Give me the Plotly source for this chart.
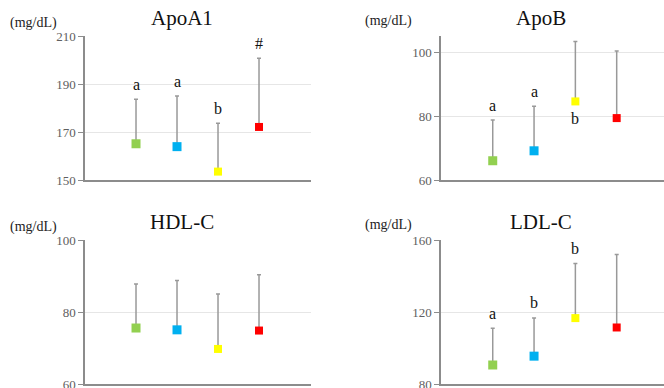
import plotly.graph_objects as go

groups = ["G1", "G2", "G3", "G4"]
colors = ["#92D050", "#00B0F0", "#FFFF00", "#FF0000"]
marker_sizes = [9, 9, 8, 8]

apoa1_mean = [165.1, 163.9, 153.5, 172.1]
apoa1_top = [183.6, 185.0, 173.6, 200.7]
apoa1_labels = ["a", "a", "b", "#"]

apob_mean = [66.1, 69.2, 84.6, 79.4]
apob_top = [78.8, 83.1, 103.3, 100.3]
apob_labels = ["a", "a", "b", ""]

hdl_mean = [75.6, 75.1, 69.8, 74.9]
hdl_top = [87.8, 88.8, 85.0, 90.4]
hdl_labels = ["", "", "", ""]

ldl_mean = [90.7, 95.6, 116.7, 111.5]
ldl_top = [111.1, 116.8, 147.0, 152.0]
ldl_labels = ["a", "b", "b", ""]

panels = [
    dict(title="ApoA1", mean=apoa1_mean, top=apoa1_top, labels=apoa1_labels,
         yrange=[150, 210], ticks=[150, 170, 190, 210]),
    dict(title="ApoB", mean=apob_mean, top=apob_top, labels=apob_labels,
         yrange=[60, 105], ticks=[60, 80, 100]),
    dict(title="HDL-C", mean=hdl_mean, top=hdl_top, labels=hdl_labels,
         yrange=[60, 100], ticks=[60, 80, 100]),
    dict(title="LDL-C", mean=ldl_mean, top=ldl_top, labels=ldl_labels,
         yrange=[80, 160], ticks=[80, 120, 160]),
]
# labels drawn below the marker instead of above the bar
below = {("ApoB", 2)}

W, H = 664, 388
# pixel geometry of each panel (left, right, top, bottom)
geom = [
    (85, 311, 36, 180),
    (441, 664, 36, 180.3),
    (85, 311, 240, 384.3),
    (441, 664, 240, 384.3),
]
xranges = [
    [-1.244, 4.268],
    [-1.252, 4.145],
    [-1.244, 4.268],
    [-1.252, 4.145],
]

SERIF = "Liberation Serif"
fig = go.Figure()
annotations = []
xs = list(range(len(groups)))

for i, p in enumerate(panels):
    n = "" if i == 0 else str(i + 1)
    xa, ya = "x" + n, "y" + n
    l, r, t, b = geom[i]
    err = [tp - m for tp, m in zip(p["top"], p["mean"])]
    # error bars (upper only)
    fig.add_trace(go.Scatter(
        x=xs, y=p["mean"], mode="markers", xaxis=xa, yaxis=ya,
        marker=dict(size=1, opacity=0),
        error_y=dict(type="data", symmetric=False, array=err,
                     arrayminus=[0] * len(err), color="#999999", thickness=1.5, width=2),
        showlegend=False, hoverinfo="skip", cliponaxis=False,
    ))
    # mean markers on top
    fig.add_trace(go.Scatter(
        x=xs, y=p["mean"], mode="markers", xaxis=xa, yaxis=ya,
        marker=dict(symbol="square", size=marker_sizes, color=colors, opacity=1,
                    line=dict(width=0)),
        showlegend=False, hoverinfo="skip", cliponaxis=False,
    ))
    fig.layout["xaxis" + n] = dict(
        domain=[l / W, min(r / W, 1)], range=xranges[i], anchor=ya, automargin=False,
        showticklabels=False, ticks="", showgrid=False, zeroline=False,
        showline=True, linecolor="#8c8c8c", linewidth=1.5, fixedrange=True,
    )
    fig.layout["yaxis" + n] = dict(
        domain=[1 - b / H, 1 - t / H], range=p["yrange"], anchor=xa, automargin=False,
        tickvals=p["ticks"], ticks="outside", ticklen=5, tickcolor="#8c8c8c",
        ticklabeloverflow="allow",
        showgrid=True, gridcolor="#e6e6e6", gridwidth=1, zeroline=False,
        showline=True, linecolor="#8c8c8c", linewidth=1.5,
        tickfont=dict(family=SERIF, size=13, color="#606060"), fixedrange=True,
    )
    cx = 182 / W if i in (0, 2) else 541 / W
    ty = 1 - (t - 18) / H
    annotations.append(dict(text=p["title"], x=cx, y=ty, xref="paper", yref="paper",
                            xanchor="center", yanchor="middle", showarrow=False,
                            font=dict(family=SERIF, size=21, color="#111111")))
    ux = 33 / W if i in (0, 2) else 388 / W
    uy = 1 - (t - 13) / H if i in (0, 2) else 1 - (t - 15) / H
    annotations.append(dict(text="(mg/dL)", x=ux, y=uy, xref="paper", yref="paper",
                            xanchor="center", yanchor="middle", showarrow=False,
                            font=dict(family=SERIF, size=14, color="#222222")))
    for j, lab in enumerate(p["labels"]):
        if not lab:
            continue
        if (p["title"], j) in below:
            annotations.append(dict(text=lab, x=j, y=p["mean"][j], xref=xa, yref=ya,
                                    yanchor="middle", yshift=-17, showarrow=False,
                                    font=dict(family=SERIF, size=16, color="#111111")))
        else:
            annotations.append(dict(text=lab, x=j, y=p["top"][j], xref=xa, yref=ya,
                                    yanchor="middle", yshift=15, showarrow=False,
                                    font=dict(family=SERIF, size=16, color="#111111")))

fig.update_layout(
    width=W, height=H, margin=dict(l=0, r=0, t=0, b=0, autoexpand=False),
    paper_bgcolor="white", plot_bgcolor="white",
    annotations=annotations,
)
fig.write_html("out.html", config={"displayModeBar": False},
               post_script="document.body.style.margin='0';document.body.style.overflow='hidden';")
